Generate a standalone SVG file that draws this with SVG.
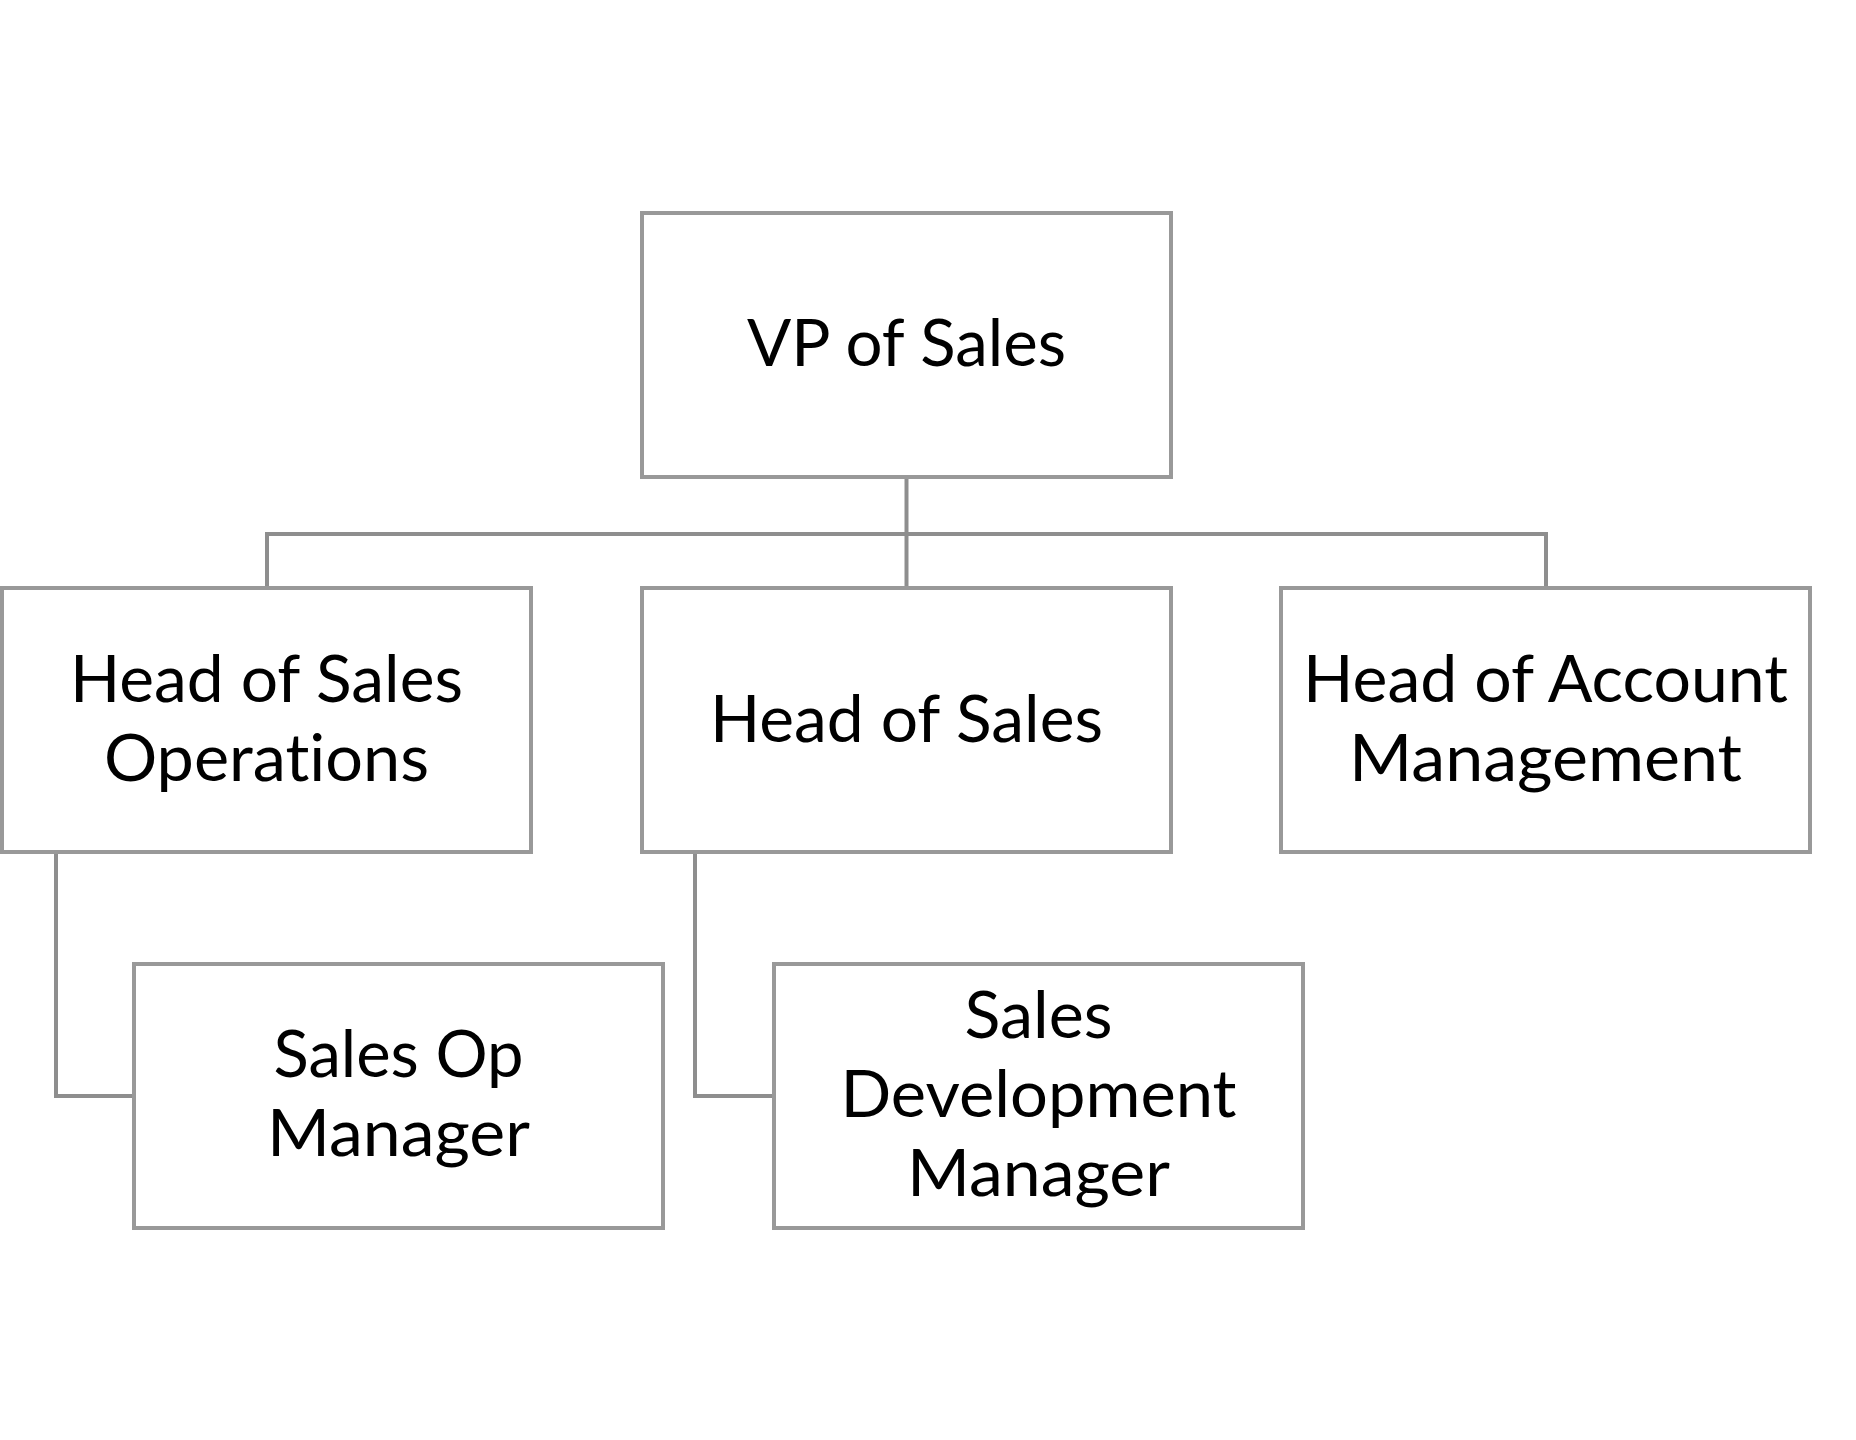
<svg xmlns="http://www.w3.org/2000/svg" width="1856" height="1440" viewBox="0 0 1856 1440">
<style>
.box{fill:#ffffff;stroke:#999999;stroke-width:4}
.conn{fill:none;stroke:#8e8e8e;stroke-width:4}
.lbl{font-family:Lato,"Open Sans","Liberation Sans",sans-serif;font-size:65px;fill:#000000;text-anchor:middle;font-variant-ligatures:none;font-feature-settings:"liga" 0,"dlig" 0,"calt" 0,"clig" 0}
</style>
<rect width="1856" height="1440" fill="#ffffff"/>
<g id="connectors">
<path class="conn" d="M906.5,477 V588"/>
<path class="conn" d="M267,588 V534 H1546 V588"/>
<path class="conn" d="M56,852 V1096 H134"/>
<path class="conn" d="M695,852 V1096 H774"/>
</g>
<g id="vp">
<rect class="box" x="642" y="213" width="529" height="264"/>
<text class="lbl" x="906.5" y="366" textLength="319" lengthAdjust="spacingAndGlyphs">VP of Sales</text>
</g>
<g id="head-sales-ops">
<rect class="box" x="2" y="588" width="529" height="264"/>
<text class="lbl" x="266.5" y="702" textLength="393" lengthAdjust="spacingAndGlyphs">Head of Sales</text>
<text class="lbl" x="266.5" y="781" textLength="325" lengthAdjust="spacingAndGlyphs">Operations</text>
</g>
<g id="head-sales">
<rect class="box" x="642" y="588" width="529" height="264"/>
<text class="lbl" x="906.5" y="742" textLength="393" lengthAdjust="spacingAndGlyphs">Head of Sales</text>
</g>
<g id="head-account">
<rect class="box" x="1281" y="588" width="529" height="264"/>
<text class="lbl" x="1545.5" y="702" textLength="485" lengthAdjust="spacingAndGlyphs">Head of Account</text>
<text class="lbl" x="1545.5" y="781" textLength="393" lengthAdjust="spacingAndGlyphs">Management</text>
</g>
<g id="sales-op-manager">
<rect class="box" x="134" y="964" width="529" height="264"/>
<text class="lbl" x="398.5" y="1077" textLength="250" lengthAdjust="spacingAndGlyphs">Sales Op</text>
<text class="lbl" x="398.5" y="1156" textLength="263" lengthAdjust="spacingAndGlyphs">Manager</text>
</g>
<g id="sales-dev-manager">
<rect class="box" x="774" y="964" width="529" height="264"/>
<text class="lbl" x="1038.5" y="1038" textLength="148" lengthAdjust="spacingAndGlyphs">Sales</text>
<text class="lbl" x="1038.5" y="1117" textLength="396" lengthAdjust="spacingAndGlyphs">Development</text>
<text class="lbl" x="1038.5" y="1196" textLength="263" lengthAdjust="spacingAndGlyphs">Manager</text>
</g>
</svg>
